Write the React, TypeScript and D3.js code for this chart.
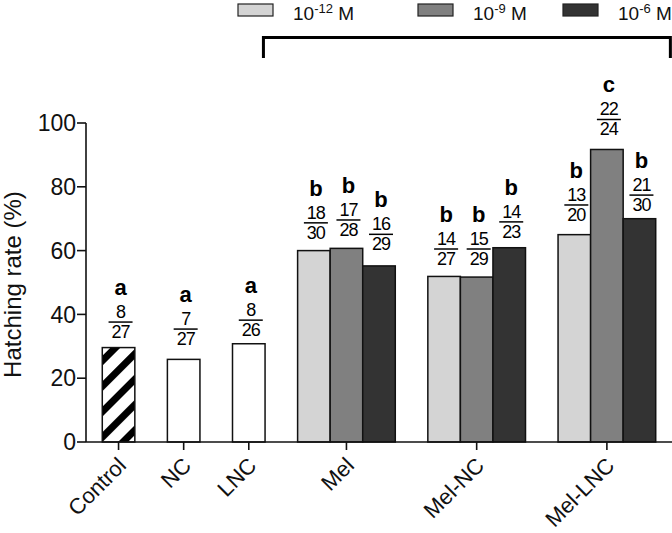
import React from "react";
import * as d3 from "d3";

// ---- data ----
const categories = ["Control", "NC", "LNC", "Mel", "Mel-NC", "Mel-LNC"];
const legendExponents = ["-12", "-9", "-6"];
const singleValues = [29.6, 25.9, 30.8]; // Control, NC, LNC
const melValues = [60.0, 60.7, 55.2];
const melNCValues = [51.9, 51.7, 60.9];
const melLNCValues = [65.0, 91.7, 70.0];
const numerators = [8, 7, 8, 18, 17, 16, 14, 15, 14, 13, 22, 21];
const denominators = [27, 27, 26, 30, 28, 29, 27, 29, 23, 20, 24, 30];
const letters = ["a", "a", "a", "b", "b", "b", "b", "b", "b", "b", "c", "b"];
// level (in % units) of the fraction bar of each annotation
const annotationLevels = [37.6, 35.4, 38.2, 68.7, 69.6, 65.1, 60.5, 60.5, 69.0, 74.3, 101.1, 77.4];
const yTicks = [0, 20, 40, 60, 80, 100];

const W = 672;
const H = 533;
const FONT = "'Liberation Sans', Arial, Helvetica, sans-serif";
const fills = ["#d4d4d4", "#808080", "#333333"];

export default function App() {
  const x = d3.scaleLinear().domain([0, 18]).range([86, 672]);
  const y = d3.scaleLinear().domain([0, 100]).range([442, 123]);
  const slot = x(1) - x(0);

  // category centres in slot units
  const catSlots = [1, 3, 5, 8, 12, 16];
  type Bar = { slot: number; value: number; fill: string; idx: number };
  const bars: Bar[] = [];
  singleValues.forEach((v, i) =>
    bars.push({ slot: catSlots[i], value: v, fill: i === 0 ? "url(#hatch)" : "#ffffff", idx: i })
  );
  [melValues, melNCValues, melLNCValues].forEach((vals, g) =>
    vals.forEach((v, j) =>
      bars.push({ slot: catSlots[3 + g] + (j - 1), value: v, fill: fills[j], idx: 3 + g * 3 + j })
    )
  );

  const legendX = [238, 418, 563];

  return (
    <svg
      width={W}
      height={H}
      style={{ position: "absolute", left: 0, top: 0, background: "#fff" }}
      fontFamily={FONT}
    >
      <defs>
        <pattern id="hatch" patternUnits="userSpaceOnUse" width="18" height="18" patternTransform="rotate(45)">
          <rect width="18" height="18" fill="#fff" />
          <rect width="7" height="18" fill="#000" />
        </pattern>
      </defs>

      {/* legend */}
      {legendExponents.map((e, i) => (
        <g key={e}>
          <rect x={legendX[i]} y={4} width={35} height={12} fill={fills[i]} stroke="#222" strokeWidth={1.2} />
          <text x={legendX[i] + 55} y={20} fontSize={19} fill="#111">
            10
            <tspan dy={-7} fontSize={13}>{e}</tspan>
            <tspan dy={7}> M</tspan>
          </text>
        </g>
      ))}

      {/* bracket */}
      <path
        d={`M${x(5.45)},58 V37.5 H${x(17.95)} V58`}
        fill="none"
        stroke="#000"
        strokeWidth={3}
      />

      {/* bars */}
      {bars.map((b) => (
        <rect
          key={b.idx}
          x={x(b.slot - 0.5)}
          y={y(b.value)}
          width={slot}
          height={y(0) - y(b.value)}
          fill={b.fill}
          stroke="#111"
          strokeWidth={1.5}
        />
      ))}

      {/* annotations */}
      {bars.map((b) => {
        const cx = x(b.slot) + 2;
        const ly = y(annotationLevels[b.idx]);
        return (
          <g key={"a" + b.idx} textAnchor="middle" fill="#000">
            <text x={cx} y={ly - 27} fontSize={22} fontWeight="bold">
              {letters[b.idx]}
            </text>
            <text x={cx} y={ly - 4} fontSize={18} letterSpacing={-1}>
              {numerators[b.idx]}
            </text>
            <line x1={cx - 12} x2={cx + 12} y1={ly} y2={ly} stroke="#000" strokeWidth={1.5} />
            <text x={cx} y={ly + 16} fontSize={18} letterSpacing={-1}>
              {denominators[b.idx]}
            </text>
          </g>
        );
      })}

      {/* y axis */}
      <line x1={x(0)} x2={x(0)} y1={y(100)} y2={y(0)} stroke="#111" strokeWidth={1.6} />
      {yTicks.map((t) => (
        <g key={t}>
          <line x1={x(0) - 9} x2={x(0)} y1={y(t)} y2={y(t)} stroke="#111" strokeWidth={1.6} />
          <text x={x(0) - 10} y={y(t)} dy="0.36em" textAnchor="end" fontSize={23} fill="#111">
            {t}
          </text>
        </g>
      ))}
      <text
        transform={`translate(21,${(y(0) + y(100)) / 2 + 2}) rotate(-90)`}
        textAnchor="middle"
        fontSize={24}
        fill="#111"
      >
        Hatching rate (%)
      </text>

      {/* x axis */}
      <line x1={x(0)} x2={x(18)} y1={y(0)} y2={y(0)} stroke="#111" strokeWidth={1.6} />
      {categories.map((c, i) => (
        <g key={c}>
          <line x1={x(catSlots[i])} x2={x(catSlots[i])} y1={y(0)} y2={y(0) + 8} stroke="#111" strokeWidth={1.6} />
          <text
            transform={`translate(${x(catSlots[i]) - 2},${y(0) + 14}) rotate(-45)`}
            textAnchor="end"
            dy="0.7em"
            fontSize={22}
            fill="#111"
          >
            {c}
          </text>
        </g>
      ))}
    </svg>
  );
}
